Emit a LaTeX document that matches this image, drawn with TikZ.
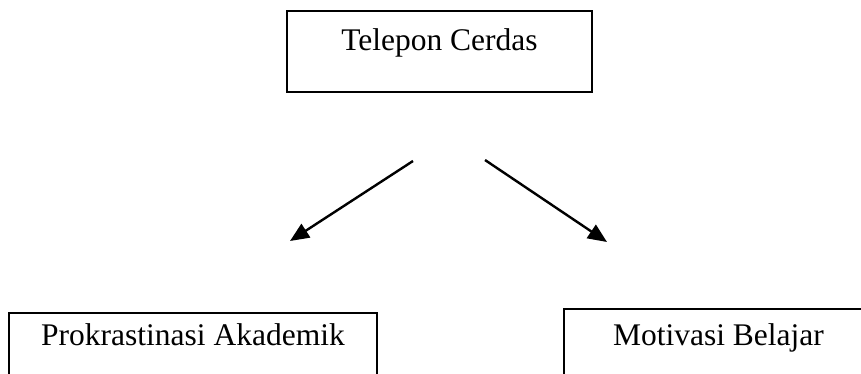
\documentclass[tikz,border=0pt]{standalone}
\usepackage{fontspec}
\setmainfont{Liberation Serif}
\usetikzlibrary{arrows.meta}
\begin{document}
\begin{tikzpicture}[x=1pt,y=1pt,
  box/.style={draw=black, line width=2pt, inner xsep=0pt, inner ysep=0pt,
    font=\fontsize{31.5}{38}\selectfont, anchor=base, text=black},
  link/.style={line width=2.4pt, -{Triangle[length=19pt,width=16pt]}}]
\clip (0,0) rectangle (861,-374);
\node[box, minimum width=305pt, text height=40pt, text depth=41pt] (tc) at (439.5,-51) {Telepon Cerdas};
\node[box, minimum width=368pt, text height=32pt, text depth=45pt] (pa) at (193,-345) {Prokrastinasi Akademik};
\node[box, minimum width=309pt, text height=36pt, text depth=45pt] (mb) at (718.5,-345) {Motivasi Belajar};
\coordinate (l1) at (413,-161);
\coordinate (l2) at (290,-241);
\coordinate (r1) at (485,-160);
\coordinate (r2) at (607,-242);
\draw[link] (l1) -- (l2);
\draw[link] (r1) -- (r2);
\end{tikzpicture}
\end{document}
